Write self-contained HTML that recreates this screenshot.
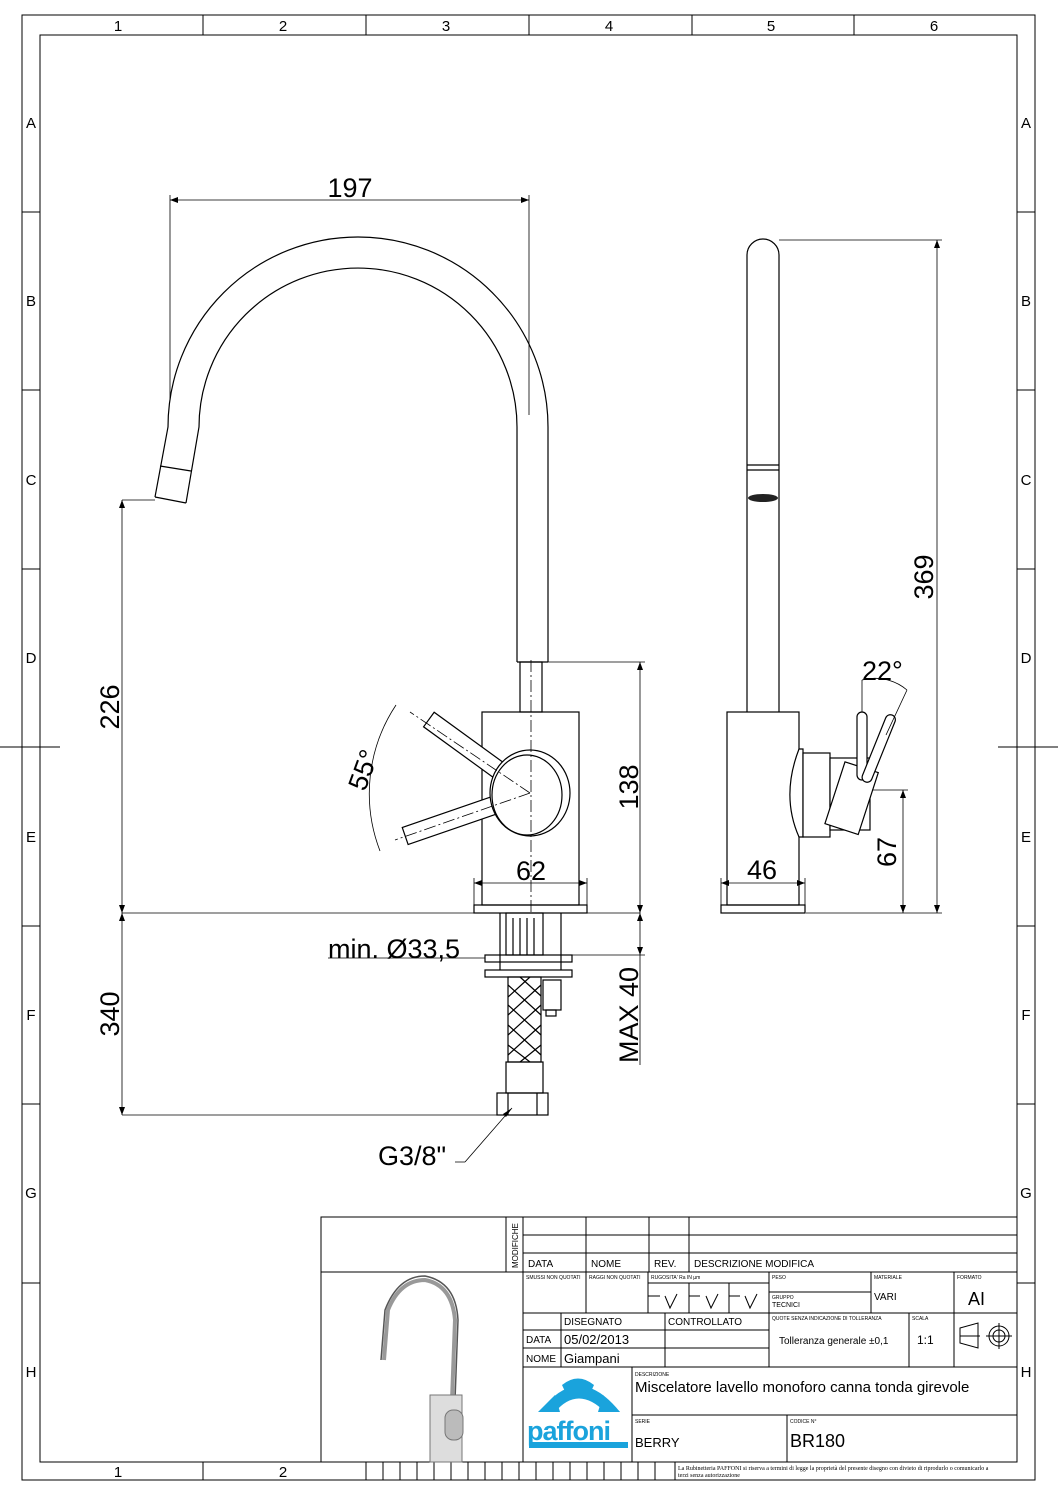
<!DOCTYPE html>
<html><head><meta charset="utf-8"><style>
html,body{margin:0;padding:0;background:#fff}
svg{display:block}
text{font-family:"Liberation Sans",sans-serif;fill:#000}
</style></head><body>
<svg width="1058" height="1497" viewBox="0 0 1058 1497" xmlns="http://www.w3.org/2000/svg">
<g fill="none" stroke="#000" stroke-width="1">
<!-- frame -->
<rect x="22" y="15" width="1013" height="1465"/>
<rect x="40" y="35" width="977" height="1427"/>
<path d="M203 15V35M366 15V35M529 15V35M692 15V35M854 15V35"/>
<path d="M22 212H40M22 390H40M22 569H40M22 926H40M22 1104H40M22 1283H40"/>
<path d="M1017 212H1035M1017 390H1035M1017 569H1035M1017 926H1035M1017 1104H1035M1017 1283H1035"/>
<path d="M0 747H60M998 747H1058"/>
<path d="M203 1462V1480M366 1462V1480"/>
<path d="M383 1462V1480M400 1462V1480M417 1462V1480M434 1462V1480M451 1462V1480M468 1462V1480M485 1462V1480M502 1462V1480M519 1462V1480M536 1462V1480M553 1462V1480M570 1462V1480M587 1462V1480M604 1462V1480M621 1462V1480M638 1462V1480M655 1462V1480M675 1462V1480"/>
</g>
<g font-size="15" text-anchor="middle">
<text x="118" y="31">1</text><text x="283" y="31">2</text><text x="446" y="31">3</text><text x="609" y="31">4</text><text x="771" y="31">5</text><text x="934" y="31">6</text>
<text x="118" y="1477">1</text><text x="283" y="1477">2</text>
<text x="31" y="128">A</text><text x="31" y="306">B</text><text x="31" y="485">C</text><text x="31" y="663">D</text><text x="31" y="842">E</text><text x="31" y="1020">F</text><text x="31" y="1198">G</text><text x="31" y="1377">H</text>
<text x="1026" y="128">A</text><text x="1026" y="306">B</text><text x="1026" y="485">C</text><text x="1026" y="663">D</text><text x="1026" y="842">E</text><text x="1026" y="1020">F</text><text x="1026" y="1198">G</text><text x="1026" y="1377">H</text>
</g>

<!-- FRONT VIEW -->
<g fill="none" stroke="#000" stroke-width="1.2">
<path d="M155 497 L168 427 A190 190 0 0 1 548 427 L548 662"/>
<path d="M186 503 L199 427 A159 159 0 0 1 517 427 L517 662"/>
<path d="M155 497 L186 503"/>
<path d="M160 466 L191 471"/>
<path d="M517 662H548"/>
<rect x="520" y="662" width="22" height="50"/>
<rect x="482" y="712" width="97" height="193"/>
<rect x="474" y="905" width="113" height="8"/>
<!-- levers -->
<g transform="rotate(36 530 793)"><rect x="405" y="784" width="110" height="18" fill="#fff"/></g>
<g transform="rotate(-19 530 793)"><rect x="398" y="784" width="110" height="18" fill="#fff"/></g>
<ellipse cx="530" cy="793" rx="40" ry="43" fill="#fff"/>
<ellipse cx="527" cy="795" rx="35" ry="40"/>
<!-- under sink -->
<rect x="506" y="913" width="37" height="42"/>
<path d="M513 918V955M520 918V955M527 918V955M534 918V955"/>
<rect x="485" y="955" width="87" height="7"/>
<rect x="485" y="970" width="87" height="7"/>
<path d="M500 913V970M561 913V970"/>
<rect x="508" y="977" width="33" height="85"/>
<path d="M508 985L541 1015M508 1005L541 1035M508 1025L541 1055M508 1045L530 1062M520 977L541 996M541 985L508 1015M541 1005L508 1035M541 1025L508 1055M541 1045L520 1062M530 977L508 997"/>
<rect x="543" y="980" width="18" height="30"/>
<rect x="546" y="1010" width="10" height="6"/>
<rect x="506" y="1062" width="37" height="31"/>
<rect x="497" y="1093" width="51" height="22"/>
<path d="M508 1093V1115M537 1093V1115"/>
</g>
<g fill="none" stroke="#000" stroke-width="0.8" stroke-dasharray="12 3 2 3">
<path d="M531 660V915"/>
<path d="M530 793L410 712"/>
<path d="M530 793L395 840"/>
</g>
<!-- dimensions front -->
<g fill="none" stroke="#000" stroke-width="0.8">
<path d="M170 200H529M170 195V400M529 195V415"/>
<path d="M122 500H155M122 500V1115M122 913H640M122 1115H497"/>
<path d="M548 662H645M640 662V1065M572 955H645"/>
<path d="M474 883H587M474 878V905M587 878V905"/>
<path d="M328 958H485"/>
<path d="M396 705 A160 160 0 0 0 380 851"/>
<path d="M465 1162H455M465 1162L512 1108"/>
</g>
<g fill="#000">
<path d="M512 1108l-9 6 3 3z"/>
<path d="M170 200l8-3v6zM529 200l-8-3v6zM122 500l-3 8h6zM122 913l-3-8h6zM122 913l-3 8h6zM122 1115l-3-8h6zM640 662l-3 8h6zM640 913l-3-8h6zM640 913l-3 8h6zM640 955l-3-8h6zM474 883l8-3v6zM587 883l-8-3v6z"/>
</g>
<g font-size="27">
<text x="350" y="197" text-anchor="middle">197</text>
<text x="516" y="880">62</text>
<text x="328" y="958">min. Ø33,5</text>
<text x="378" y="1165">G3/8"</text>
<text transform="translate(119 707) rotate(-90)" text-anchor="middle">226</text>
<text transform="translate(119 1014) rotate(-90)" text-anchor="middle">340</text>
<text transform="translate(638 787) rotate(-90)" text-anchor="middle">138</text>
<text transform="translate(638 1015) rotate(-90)" text-anchor="middle">MAX 40</text>
<text transform="translate(372 773) rotate(-70)" text-anchor="middle">55°</text>
</g>

<!-- SIDE VIEW -->
<g fill="none" stroke="#000" stroke-width="1.2">
<path d="M747 712V255A16 16 0 0 1 779 255V712"/>
<path d="M747 465H779M747 470H779"/>
<rect x="727" y="712" width="72" height="193"/>
<rect x="721" y="905" width="84" height="8"/>
<path d="M799 749 C787 780 787 810 799 837 L803 837 L803 749 Z" fill="#fff"/>
<rect x="803" y="753" width="27" height="84" fill="#fff"/>
<rect x="830" y="758" width="40" height="72" fill="#fff"/>
<g transform="rotate(18 850 795)"><rect x="835" y="765" width="35" height="65" fill="#fff"/></g>
<rect x="857" y="712" width="10" height="68" rx="5" fill="#fff"/>
<g transform="rotate(22 866 780)"><rect x="861" y="710" width="10" height="72" rx="5" fill="#fff"/></g>
</g>
<ellipse cx="763" cy="498" rx="15" ry="4" fill="#222"/>
<g fill="none" stroke="#000" stroke-width="0.8">
<path d="M779 240H942M937 240V913M806 913H942"/>
<path d="M872 790H908M903 790V913"/>
<path d="M721 883H805M721 878V905M805 878V905"/>
<path d="M862 680V712M907 690L886 735M862 680 A50 50 0 0 1 907 690"/>
</g>
<g fill="#000">
<path d="M937 240l-3 8h6zM937 913l-3-8h6zM903 790l-3 8h6zM903 913l-3-8h6zM721 883l8-3v6zM805 883l-8-3v6z"/>
</g>
<g font-size="27">
<text x="747" y="879">46</text>
<text x="862" y="680">22°</text>
<text transform="translate(933 577) rotate(-90)" text-anchor="middle">369</text>
<text transform="translate(896 852) rotate(-90)" text-anchor="middle">67</text>
</g>

<!-- TITLE BLOCK -->
<g fill="none" stroke="#000" stroke-width="1">
<rect x="321" y="1217" width="696" height="245"/>
<path d="M321 1272H1017M506 1217V1272M523 1217V1462"/>
<path d="M523 1235H1017M523 1253H1017M586 1217V1272M649 1217V1272M689 1217V1272"/>
<path d="M586 1272V1313M648 1272V1313M769 1272V1367M871 1272V1313M954 1272V1367M523 1313H1017"/>
<path d="M648 1283H769M689 1283V1313M729 1283V1313M769 1292H871"/>
<path d="M648 1283V1296H660M689 1283V1296H700M729 1283V1296H740"/>
<path d="M561 1313V1367M665 1313V1367M523 1330H769M523 1348H769M909 1313V1367M523 1367H1017"/>
<path d="M632 1367V1462M632 1415H1017M787 1415V1462"/>
<path d="M665 1296l5 12 7-14M706 1296l5 12 7-14M745 1296l5 12 7-14"/>
<path d="M960 1328L978 1323V1348L960 1343ZM960 1336H980"/>
<circle cx="999" cy="1336" r="10"/><circle cx="999" cy="1336" r="6"/>
<path d="M986 1336H1012M999 1323V1349"/>
</g>
<g font-size="10">
<text transform="translate(518 1268) rotate(-90)" font-size="8">MODIFICHE</text>
<text x="528" y="1267">DATA</text><text x="591" y="1267">NOME</text><text x="654" y="1267">REV.</text><text x="694" y="1267">DESCRIZIONE MODIFICA</text>
<text x="526" y="1279" font-size="5">SMUSSI NON QUOTATI</text>
<text x="589" y="1279" font-size="5">RAGGI NON QUOTATI</text>
<text x="651" y="1279" font-size="5">RUGOSITA' Ra IN µm</text>
<text x="772" y="1279" font-size="5">PESO</text>
<text x="874" y="1279" font-size="5">MATERIALE</text>
<text x="957" y="1279" font-size="5">FORMATO</text>
<text x="772" y="1299" font-size="5">GRUPPO</text>
<text x="772" y="1307" font-size="7">TECNICI</text>
<text x="874" y="1300">VARI</text>
<text x="968" y="1305" font-size="18">AI</text>
<text x="564" y="1325">DISEGNATO</text><text x="668" y="1325">CONTROLLATO</text>
<text x="526" y="1343">DATA</text><text x="564" y="1344" font-size="13">05/02/2013</text>
<text x="526" y="1362">NOME</text><text x="564" y="1363" font-size="13">Giampani</text>
<text x="772" y="1320" font-size="5">QUOTE SENZA INDICAZIONE DI TOLLERANZA</text>
<text x="912" y="1320" font-size="5">SCALA</text>
<text x="779" y="1344">Tolleranza generale ±0,1</text>
<text x="917" y="1344" font-size="12">1:1</text>
<text x="635" y="1376" font-size="5">DESCRIZIONE</text>
<text x="635" y="1392" font-size="15">Miscelatore lavello monoforo canna tonda girevole</text>
<text x="635" y="1423" font-size="5">SERIE</text>
<text x="635" y="1447" font-size="13">BERRY</text>
<text x="790" y="1423" font-size="5">CODICE N°</text>
<text x="790" y="1447" font-size="18">BR180</text>
<text x="678" y="1470" font-size="6" style="font-family:'Liberation Serif',serif">La Rubinetteria PAFFONI si riserva a termini di legge la proprietà del presente disegno con divieto di riprodurlo o comunicarlo a</text>
<text x="678" y="1477" font-size="6" style="font-family:'Liberation Serif',serif">terzi senza autorizzazione</text>
</g>
<!-- logo -->
<g fill="#1aa3dc">
<path d="M540 1412 Q578 1360 620 1412 L605 1412 Q578 1385 555 1412Z"/>
<path d="M562 1385 Q578 1372 594 1385 L588 1398 L568 1398Z"/>
<path d="M538 1412 L555 1395 L560 1412Z M620 1412 L603 1395 L598 1412Z"/>
</g>
<text x="527" y="1440" font-size="27" font-weight="bold" style="fill:#1aa3dc;letter-spacing:-1px">paffoni</text>
<rect x="529" y="1442" width="99" height="6" fill="#1aa3dc"/>
<!-- tap image -->
<g fill="none" stroke="#999" stroke-width="4">
<path d="M384 1360 L388 1310 Q400 1280 425 1280 Q452 1285 455 1320 L452 1400"/>
</g>
<g fill="none" stroke="#555" stroke-width="1.5">
<path d="M381 1360 L385 1310 Q398 1276 425 1276 Q456 1282 458 1320 L455 1400"/>
</g>
<rect x="430" y="1395" width="32" height="67" fill="#ddd" stroke="#777"/>
<rect x="445" y="1410" width="18" height="30" rx="8" fill="#bbb" stroke="#777"/>
</svg>
</body></html>
